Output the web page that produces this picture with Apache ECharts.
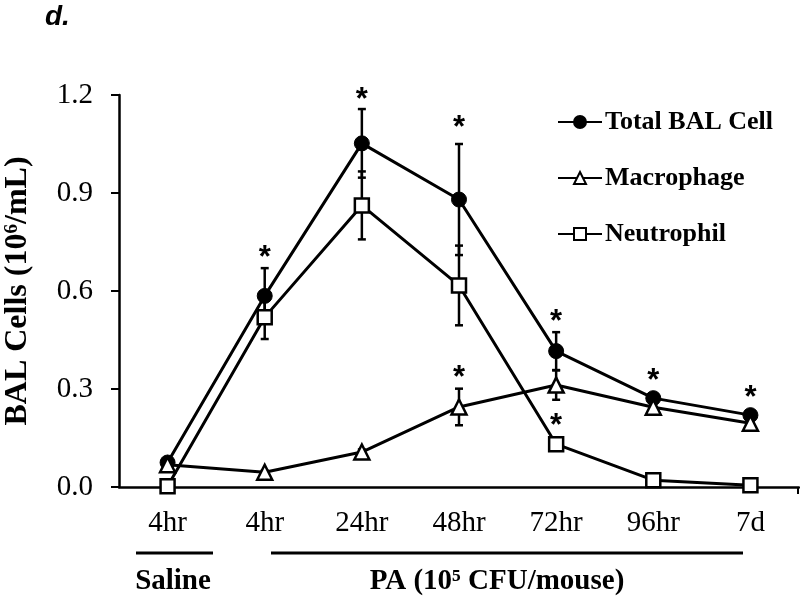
<!DOCTYPE html>
<html>
<head>
<meta charset="utf-8">
<script src="https://cdn.jsdelivr.net/npm/echarts@6/dist/echarts.min.js"></script>
<style>html,body{margin:0;padding:0;background:#fff}#c{width:800px;height:596px}</style>
</head>
<body>
<div id="c"></div>
<script>
var categories = ['4hr', '4hr', '24hr', '48hr', '72hr', '96hr', '7d'];
var yTicks = [0, 0.3, 0.6, 0.9, 1.2];
var totalBAL = [0.075, 0.585, 1.052, 0.880, 0.416, 0.272, 0.220];
var totalErr = [0.010, 0.085, 0.105, 0.170, 0.058, 0.012, 0.012];
var macrophage = [0.068, 0.045, 0.107, 0.245, 0.312, 0.244, 0.195];
var macroErr = [0.005, 0.005, 0.008, 0.056, 0.045, 0.010, 0.010];
var neutrophil = [0.002, 0.520, 0.862, 0.617, 0.131, 0.021, 0.005];
var neutroErr = [0.000, 0.067, 0.104, 0.122, 0.008, 0.004, 0.004];
// significance asterisks: [category index, y position]
var asterisks = [[1, 0.725], [2, 1.209], [3, 1.123], [4, 0.527], [4, 0.211], [3, 0.358], [5, 0.349], [6, 0.297]];

var chart = echarts.init(document.getElementById('c'));
var serif = 'Liberation Serif';

function errSeries(vals, errs, name) {
  return {
    type: 'custom',
    name: name + ' err',
    z: 1,
    silent: true,
    clip: false,
    data: vals.map(function (v, i) { return [i, v - errs[i], v + errs[i]]; }),
    renderItem: function (params, api) {
      var lo = api.coord([api.value(0), api.value(1)]);
      var hi = api.coord([api.value(0), api.value(2)]);
      var hw = 4;
      var st = { stroke: '#000', lineWidth: 2.5 };
      return {
        type: 'group',
        children: [
          { type: 'line', shape: { x1: lo[0], y1: lo[1], x2: hi[0], y2: hi[1] }, style: st },
          { type: 'line', shape: { x1: lo[0] - hw, y1: lo[1], x2: lo[0] + hw, y2: lo[1] }, style: st },
          { type: 'line', shape: { x1: hi[0] - hw, y1: hi[1], x2: hi[0] + hw, y2: hi[1] }, style: st }
        ]
      };
    }
  };
}

var option = {
  animation: false,
  backgroundColor: '#fff',
  grid: { left: 119, right: 1, top: 95, bottom: 109, containLabel: false, outerBoundsMode: 'none' },
  legend: {
    orient: 'vertical',
    left: 557,
    top: 109,
    padding: 0,
    itemWidth: 44,
    itemHeight: 15,
    itemGap: 30,
    data: ['Total BAL Cell', 'Macrophage', 'Neutrophil'],
    textStyle: { fontFamily: serif, fontWeight: 'bold', fontSize: 26, color: '#000', lineHeight: 26, padding: [0, 0, 0, -2] }
  },
  xAxis: {
    type: 'category',
    data: categories,
    boundaryGap: true,
    axisLine: { lineStyle: { color: '#000', width: 2.5 } },
    axisTick: { alignWithLabel: true, length: 7, lineStyle: { color: '#000', width: 2 } },
    axisLabel: { color: '#000', fontFamily: serif, fontSize: 29, margin: 22, interval: 0 },
    splitLine: { show: false }
  },
  yAxis: {
    type: 'value',
    min: 0, max: 1.2, interval: 0.3,
    name: 'BAL Cells (10\u2076/mL)',
    nameLocation: 'middle',
    nameGap: 85,
    nameTextStyle: { fontFamily: serif, fontWeight: 'bold', fontSize: 32, color: '#000' },
    axisLine: { show: true, lineStyle: { color: '#000', width: 2.5 } },
    axisTick: { show: true, length: 8, lineStyle: { color: '#000', width: 2 } },
    axisLabel: { color: '#000', fontFamily: serif, fontSize: 29, margin: 26,
      formatter: function (v) { return v.toFixed(1); } },
    splitLine: { show: false }
  },
  series: [
    errSeries(totalBAL, totalErr, 'Total BAL Cell'),
    errSeries(macrophage, macroErr, 'Macrophage'),
    errSeries(neutrophil, neutroErr, 'Neutrophil'),
    {
      name: 'Total BAL Cell', type: 'line', data: totalBAL, z: 3,
      symbol: 'circle', symbolSize: 15, showAllSymbol: true,
      lineStyle: { color: '#000', width: 3 },
      itemStyle: { color: '#000', borderColor: '#000', borderWidth: 1 }
    },
    {
      name: 'Macrophage', type: 'line', data: macrophage, z: 4,
      symbol: 'triangle', symbolSize: 15, showAllSymbol: true,
      lineStyle: { color: '#000', width: 3 },
      itemStyle: { color: '#fff', borderColor: '#000', borderWidth: 2.5 }
    },
    {
      name: 'Neutrophil', type: 'line', data: neutrophil, z: 5,
      symbol: 'rect', symbolSize: 14, showAllSymbol: true,
      lineStyle: { color: '#000', width: 3 },
      itemStyle: { color: '#fff', borderColor: '#000', borderWidth: 2.5 }
    },
    {
      name: 'sig', type: 'scatter', data: asterisks, symbol: 'circle', symbolSize: 1, clip: false, z: 6,
      silent: true,
      itemStyle: { color: 'rgba(0,0,0,0)' },
      label: { show: true, position: 'inside', formatter: '*', color: '#000', opacity: 1,
        fontFamily: 'Liberation Sans', fontWeight: 'bold', fontSize: 31, offset: [0, 8] }
    }
  ],
  graphic: [
    { type: 'text', left: 45, top: 3, style: { text: 'd.', fontFamily: 'Liberation Sans', fontWeight: 'bold', fontStyle: 'italic', fontSize: 28, fill: '#000' } },
    { type: 'line', shape: { x1: 136, y1: 553, x2: 213, y2: 553 }, style: { stroke: '#000', lineWidth: 3 } },
    { type: 'line', shape: { x1: 271, y1: 553, x2: 743, y2: 553 }, style: { stroke: '#000', lineWidth: 3 } },
    { type: 'text', x: 173, y: 582, style: { text: 'Saline', fontFamily: serif, fontWeight: 'bold', fontSize: 29, fill: '#000', align: 'center', verticalAlign: 'middle' } },
    { type: 'text', x: 497, y: 582, style: { text: 'PA (10\u2075 CFU/mouse)', fontFamily: serif, fontWeight: 'bold', fontSize: 29, fill: '#000', align: 'center', verticalAlign: 'middle' } },
    { type: 'line', shape: { x1: 798, y1: 487, x2: 798, y2: 494 }, style: { stroke: '#000', lineWidth: 2 } }
  ]
};
chart.setOption(option);
</script>
</body>
</html>
